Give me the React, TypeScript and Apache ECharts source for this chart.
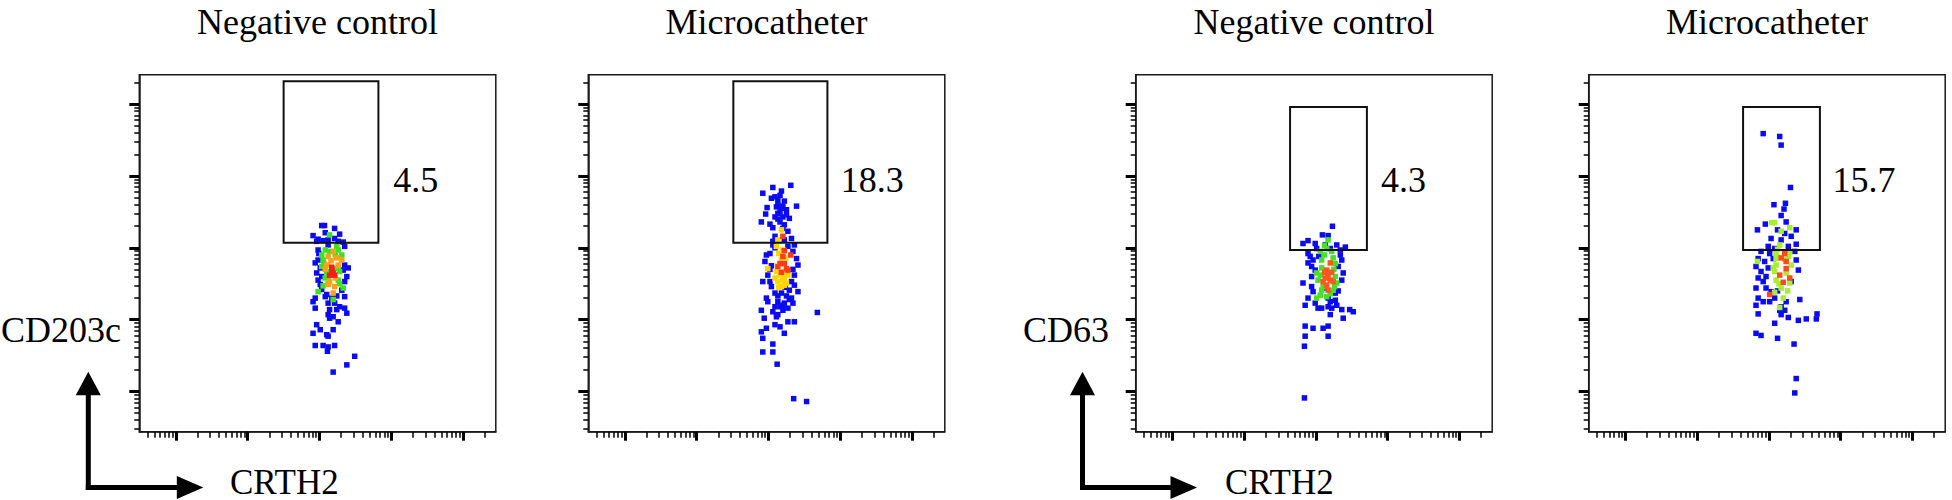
import React, { useEffect, useRef } from "react";
import * as echarts from "echarts";

// ---------- data (log10 fluorescence intensities) ----------
const PANEL_TITLES = ["Negative control", "Microcatheter", "Negative control", "Microcatheter"];
const Y_AXIS_NAMES = ["CD203c", "CD63"];
const X_AXIS_NAME = "CRTH2";
const GATE_PERCENT = [4.5, 18.3, 4.3, 15.7];
// gate rectangles: [xMin, yMin, xMax, yMax]
const GATES = [
  [2.5, 3.07, 3.82, 5.32],
  [2.51, 3.07, 3.82, 5.32],
  [2.64, 2.97, 3.71, 4.96],
  [2.64, 2.97, 3.71, 4.96],
];
// anchor of the gate percentage text (left edge, vertical centre)
const LABEL_POS = [
  [4.02, 3.94],
  [4.0, 3.94],
  [3.9, 3.94],
  [3.88, 3.94],
];
const MAJOR_TICKS = [1, 2, 3, 4, 5];
const MINOR_MULTIPLIERS = [2, 3, 4, 5, 6, 7, 8, 9];
const DECADES = [0, 1, 2, 3, 4, 5];
const X_MIN = 0.49;
const X_MAX = 5.455;
const Y_MIN = 0.44;
const Y_MAX = 5.41;

const P1_BLUE = [
  [3.03, 3.31], [3.07, 3.31], [3.21, 3.27], [2.91, 3.17], [3.08, 3.21], [3.28, 3.19], [2.98, 3.12], [3.05, 3.1],
  [3.12, 3.11], [3.21, 3.13], [3.33, 3.08], [2.96, 3.09], [3.26, 3.09], [2.98, 2.97], [3.35, 3.02], [2.98, 2.83],
  [2.94, 2.79], [3.35, 2.76], [3.4, 2.72], [2.96, 2.65], [3.38, 2.6], [2.98, 2.55], [3.35, 2.53], [3.01, 2.49],
  [3.03, 2.42], [2.94, 2.3], [2.91, 2.25], [3.1, 2.35], [3.35, 2.32], [3.12, 2.23], [3.21, 2.23], [3.28, 2.18],
  [3.14, 2.14], [3.24, 2.14], [3.35, 2.16], [3.38, 2.09], [2.94, 2.16], [3.12, 2.07], [3.19, 2.04], [3.26, 1.97],
  [3.14, 2.02], [2.96, 1.93], [3.01, 1.86], [3.19, 1.86], [2.91, 1.81], [3.1, 1.79], [3.12, 1.77], [2.94, 1.64],
  [3.05, 1.64], [3.12, 1.62], [3.21, 1.64], [3.11, 1.56], [3.49, 1.49], [3.38, 1.37], [3.19, 1.27], [3.12, 3.04],
  [3.33, 2.69], [3.01, 2.72], [3.08, 2.32], [3.17, 2.3], [3.31, 2.41], [3.03, 2.6], [3.24, 2.33], [2.99, 2.92],
];
const P1_GREEN = [
  [3.08, 2.97], [3.26, 2.97], [3.14, 3.18], [3.03, 2.9], [3.05, 2.83], [3.31, 2.9], [3.03, 2.74], [3.28, 2.67],
  [3.08, 2.58], [3.33, 2.44], [2.98, 2.39], [3.19, 2.28], [3.24, 3.02], [3.1, 2.67], [3.12, 2.5], [3.14, 2.95],
  [3.22, 2.9], [3.06, 2.78], [3.24, 2.71], [3.12, 2.6], [3.26, 2.55], [3.05, 2.47], [3.28, 2.5],
];
const P1_ORANGE = [
  [3.19, 2.95], [3.12, 2.88], [3.24, 2.86], [3.31, 2.83], [3.1, 2.76], [3.26, 2.76], [3.12, 2.49], [3.21, 2.46],
  [3.19, 2.37], [3.14, 2.53], [3.16, 2.82], [3.22, 2.58], [3.08, 2.7],
];
const P1_RED = [[3.17, 2.69], [3.19, 2.65], [3.14, 2.62], [3.21, 2.62], [3.17, 2.73]];

const P2_BLUE = [
  [3.31, 3.87], [3.06, 3.84], [3.18, 3.79], [2.92, 3.76], [3.09, 3.71], [3.16, 3.73], [3.04, 3.69], [3.13, 3.67],
  [3.22, 3.65], [2.98, 3.56], [3.39, 3.58], [3.11, 3.57], [3.18, 3.55], [3.25, 3.53], [3.13, 3.48], [3.2, 3.43],
  [3.09, 3.43], [2.96, 3.47], [2.9, 3.36], [3.02, 3.33], [3.16, 3.36], [3.22, 3.32], [3.29, 3.41], [3.06, 3.28],
  [3.27, 3.23], [3.09, 3.16], [3.32, 3.13], [3.22, 3.11], [3.06, 3.09], [3.06, 3.04], [3.36, 3.04], [2.97, 2.9],
  [3.02, 2.92], [3.27, 3.02], [2.95, 2.81], [3.39, 2.85], [2.99, 2.62], [3.41, 2.76], [2.92, 2.53], [3.02, 2.53],
  [3.36, 2.62], [3.32, 2.53], [3.04, 2.46], [3.29, 2.41], [3.09, 2.37], [3.18, 2.37], [3.25, 2.33], [3.32, 2.3],
  [3.13, 2.25], [3.22, 2.23], [3.34, 2.23], [3.09, 2.18], [3.27, 2.16], [3.06, 2.11], [3.2, 2.13], [2.9, 2.13],
  [2.94, 2.02], [3.13, 2.07], [3.27, 1.97], [3.36, 1.97], [3.68, 2.1], [3.11, 2.04], [2.97, 1.88], [2.9, 1.83],
  [3.09, 1.93], [3.16, 1.9], [3.22, 1.81], [2.92, 1.74], [3.06, 1.66], [2.92, 1.55], [3.06, 1.55], [3.12, 1.38],
  [3.35, 0.9], [3.53, 0.86], [3.41, 2.39], [2.97, 2.3], [3.36, 2.48], [2.99, 2.25], [3.16, 2.18], [3.13, 3.6],
  [3.2, 3.58], [3.16, 3.5], [3.25, 3.46], [3.13, 3.4], [3.2, 3.27], [3.09, 3.0], [3.34, 2.95], [3.02, 2.7],
  [3.34, 2.7], [3.23, 2.45], [3.13, 2.33], [3.29, 2.28], [3.2, 2.2], [3.04, 2.75],
];
const P2_YELLOW = [
  [3.18, 3.25], [3.13, 3.11], [3.11, 3.02], [3.2, 2.97], [3.16, 2.62], [3.22, 2.58], [3.13, 2.53], [3.25, 2.51],
  [3.18, 2.46], [2.99, 2.71], [3.27, 2.62], [3.18, 2.83], [3.09, 2.58], [3.22, 2.48], [3.14, 2.92], [3.24, 2.86],
  [3.11, 2.67], [3.2, 2.55], [3.14, 2.45], [3.24, 2.66],
];
const P2_RED = [
  [3.2, 3.16], [3.22, 2.96], [3.31, 2.9], [3.2, 2.88], [3.16, 2.78], [3.25, 2.71], [3.18, 2.66], [3.27, 2.69],
  [3.13, 2.74], [3.22, 2.78],
];

const P3_BLUE = [
  [3.23, 3.3], [3.09, 3.18], [3.17, 3.17], [2.89, 3.1], [2.82, 3.06], [2.99, 3.06], [3.13, 3.04], [3.29, 3.04],
  [3.41, 3.01], [3.01, 2.99], [3.2, 2.99], [3.34, 2.97], [2.89, 2.92], [2.92, 2.88], [2.96, 2.83], [2.89, 2.79],
  [2.94, 2.74], [2.99, 2.69], [3.34, 2.9], [3.36, 2.83], [3.31, 2.74], [3.38, 2.65], [3.36, 2.55], [2.82, 2.51],
  [2.94, 2.46], [2.96, 2.39], [2.89, 2.3], [2.85, 2.2], [2.99, 2.23], [3.03, 2.16], [3.08, 2.16], [3.17, 2.18],
  [3.22, 2.16], [3.27, 2.27], [3.29, 2.2], [3.27, 2.37], [3.17, 2.3], [3.36, 2.14], [3.47, 2.14], [3.52, 2.11],
  [3.38, 2.02], [3.2, 2.07], [2.85, 1.91], [2.96, 1.88], [3.1, 1.88], [3.17, 1.91], [2.85, 1.77], [3.17, 1.77],
  [2.84, 1.63], [2.84, 0.91], [3.04, 2.88], [3.13, 2.44], [2.94, 2.6], [3.2, 2.25], [3.31, 2.4],
];
const P3_GREEN = [
  [3.17, 3.11], [3.15, 2.99], [3.06, 2.95], [3.22, 2.95], [3.08, 2.83], [3.27, 2.78], [3.01, 2.65], [3.03, 2.55],
  [3.27, 2.6], [3.29, 2.51], [3.08, 2.41], [3.24, 2.41], [3.06, 2.34], [3.15, 2.32], [3.01, 2.3], [3.12, 2.9],
  [3.24, 2.86], [3.08, 2.72], [3.25, 2.7], [3.06, 2.62], [3.26, 2.46], [3.1, 2.46], [3.2, 2.36], [3.12, 3.03],
];
const P3_RED = [
  [3.2, 2.79], [3.15, 2.69], [3.17, 2.62], [3.13, 2.58], [3.2, 2.55], [3.24, 2.53], [3.15, 2.48], [3.17, 2.41],
  [3.1, 2.53], [3.22, 2.66], [3.12, 2.66],
];

const P4_BLUE = [
  [2.92, 4.59], [3.15, 4.55], [3.17, 4.43], [3.3, 3.84], [3.07, 3.6], [3.23, 3.62], [3.21, 3.54], [3.17, 3.45],
  [2.95, 3.33], [3.24, 3.36], [2.84, 3.25], [3.12, 3.25], [3.38, 3.25], [3.22, 3.2], [3.31, 3.16], [3.03, 3.13],
  [3.17, 3.11], [3.38, 3.05], [2.99, 3.02], [3.08, 2.99], [3.27, 3.02], [2.89, 2.95], [3.01, 2.92], [3.36, 2.95],
  [2.85, 2.85], [2.94, 2.81], [3.38, 2.83], [2.82, 2.74], [2.89, 2.67], [2.99, 2.72], [3.41, 2.69], [2.85, 2.58],
  [2.92, 2.53], [3.31, 2.53], [2.82, 2.44], [2.96, 2.44], [3.03, 2.39], [2.85, 2.3], [2.92, 2.25], [3.08, 2.3],
  [3.43, 2.28], [2.82, 2.2], [3.01, 2.25], [3.17, 2.18], [3.22, 2.13], [2.85, 2.08], [3.17, 2.07], [3.27, 2.03],
  [3.08, 1.95], [3.41, 1.99], [3.52, 2.01], [3.67, 2.08], [3.66, 2.01], [2.82, 1.81], [2.89, 1.78], [3.12, 1.74],
  [3.35, 1.66], [3.38, 1.18], [3.36, 0.98], [3.15, 2.13], [3.24, 2.25], [3.06, 2.85], [2.96, 2.6], [3.12, 2.4],
];
const P4_GREEN = [
  [3.08, 3.35], [3.17, 3.23], [3.29, 3.28], [3.15, 3.04], [3.29, 2.94], [3.1, 2.92], [2.84, 2.81], [3.1, 2.76],
  [3.31, 2.76], [3.08, 2.67], [3.24, 2.65], [3.1, 2.55], [3.29, 2.51], [3.17, 2.44], [3.2, 2.3], [3.15, 2.17],
  [3.1, 2.85], [3.27, 2.88], [3.04, 3.35], [3.12, 2.98], [3.22, 2.84], [3.06, 2.72], [3.14, 2.5], [3.26, 2.4],
  [3.08, 2.38],
];
const P4_RED = [
  [3.17, 2.86], [3.24, 2.81], [3.24, 2.71], [3.15, 2.62], [3.29, 2.58], [3.2, 2.52], [3.01, 2.35], [3.22, 2.92],
];

const PANEL_LAYERS = [
  [
    { data: P1_BLUE, color: "#0b0bf2" },
    { data: P1_GREEN, color: "#3fe21c" },
    { data: P1_ORANGE, color: "#ffa11a" },
    { data: P1_RED, color: "#ff1c1c" },
  ],
  [
    { data: P2_BLUE, color: "#0b0bf2" },
    { data: P2_YELLOW, color: "#ffd600" },
    { data: P2_RED, color: "#ff3c12" },
  ],
  [
    { data: P3_BLUE, color: "#0b0bf2" },
    { data: P3_GREEN, color: "#46e028" },
    { data: P3_RED, color: "#ff581e" },
  ],
  [
    { data: P4_BLUE, color: "#0b0bf2" },
    { data: P4_GREEN, color: "#a6ee2e" },
    { data: P4_RED, color: "#ff4a1e" },
  ],
];

// ---------- layout ----------
const GRID_LEFTS = [139.3, 588.3, 1135.7, 1588.7];
const GRID_TOP = 74.7;
const GRID_W = 356.5;
const GRID_H = 357;
const FONT = '"Liberation Serif", "Times New Roman", Times, serif';

const MINOR_ALL = DECADES.flatMap((d) => MINOR_MULTIPLIERS.map((k) => d + Math.log10(k)));
const MINOR_X = MINOR_ALL.filter((v) => v >= X_MIN && v <= X_MAX);
const MINOR_Y = MINOR_ALL.filter((v) => v >= Y_MIN && v <= Y_MAX);

function buildOption() {
  const grid: any[] = [];
  const xAxis: any[] = [];
  const yAxis: any[] = [];
  const series: any[] = [];

  for (let i = 0; i < 4; i++) {
    grid.push({
      left: GRID_LEFTS[i],
      top: GRID_TOP,
      width: GRID_W,
      height: GRID_H,
      show: true,
      borderColor: "#1a1a1a",
      borderWidth: 1.5,
      backgroundColor: "#fff",
    });
    const common = { gridIndex: i, type: "value", axisLabel: { show: false }, splitLine: { show: false } };
    xAxis.push({
      ...common,
      min: X_MIN,
      max: X_MAX,
      position: "bottom",
      axisLine: { show: true, onZero: false, lineStyle: { color: "#1a1a1a", width: 1.5 } },
      axisTick: { show: true, customValues: MAJOR_TICKS, length: 9, lineStyle: { color: "#000", width: 3 } },
    });
    xAxis.push({
      ...common,
      min: X_MIN,
      max: X_MAX,
      position: "bottom",
      axisLine: { show: false, onZero: false },
      axisTick: { show: true, customValues: MINOR_X, length: 6, lineStyle: { color: "#000", width: 1.5 } },
    });
    yAxis.push({
      ...common,
      min: Y_MIN,
      max: Y_MAX,
      position: "left",
      axisLine: { show: true, onZero: false, lineStyle: { color: "#1a1a1a", width: 1.5 } },
      axisTick: { show: true, customValues: MAJOR_TICKS, length: 10, lineStyle: { color: "#000", width: 3 } },
    });
    yAxis.push({
      ...common,
      min: Y_MIN,
      max: Y_MAX,
      position: "left",
      axisLine: { show: false, onZero: false },
      axisTick: { show: true, customValues: MINOR_Y, length: 5, lineStyle: { color: "#000", width: 1.5 } },
    });

    const xi = i * 2;
    const yi = i * 2;
    PANEL_LAYERS[i].forEach((layer, li) => {
      series.push({
        type: "scatter",
        xAxisIndex: xi,
        yAxisIndex: yi,
        data: layer.data,
        symbol: "rect",
        symbolSize: 5.5,
        itemStyle: { color: layer.color, opacity: 1 },
        z: 2 + li * 0.01,
        silent: true,
      });
    });
    series.push({
      type: "custom",
      xAxisIndex: xi,
      yAxisIndex: yi,
      z: 5,
      silent: true,
      clip: false,
      encode: { x: [0, 2], y: [1, 3] },
      data: [GATES[i]],
      renderItem: (_params: any, api: any) => {
        const p0 = api.coord([api.value(0), api.value(3)]);
        const p1 = api.coord([api.value(2), api.value(1)]);
        return {
          type: "rect",
          shape: { x: p0[0], y: p0[1], width: p1[0] - p0[0], height: p1[1] - p0[1] },
          style: { fill: "none", stroke: "#111", lineWidth: 2 },
        };
      },
    });
    series.push({
      type: "scatter",
      xAxisIndex: xi,
      yAxisIndex: yi,
      data: [[LABEL_POS[i][0], LABEL_POS[i][1], GATE_PERCENT[i]]],
      symbolSize: 1,
      itemStyle: { color: "rgba(0,0,0,0)" },
      z: 6,
      silent: true,
      label: {
        show: true,
        position: "right",
        distance: 0,
        formatter: (p: any) => String(p.value[2]),
        fontFamily: FONT,
        fontSize: 36,
        color: "#000",
        textBorderWidth: 0,
        opacity: 1,
        verticalAlign: "middle",
      },
    });
  }

  const textStyle = (text: string, x: number, y: number, align: string, size = 36) => ({
    type: "text",
    style: {
      text,
      x,
      y,
      font: `${size}px ${FONT}`,
      fill: "#000",
      textAlign: align,
      textVerticalAlign: "middle",
    },
  });

  const graphic: any[] = [];
  // titles
  PANEL_TITLES.forEach((t, i) => {
    graphic.push(textStyle(t, GRID_LEFTS[i] + GRID_W / 2, 22, "center"));
  });
  // y names
  graphic.push(textStyle(Y_AXIS_NAMES[0], 121, 330, "right"));
  graphic.push(textStyle(Y_AXIS_NAMES[1], 1109, 330, "right"));
  // x names
  graphic.push(textStyle(X_AXIS_NAME, 230, 482, "left", 35));
  graphic.push(textStyle(X_AXIS_NAME, 1225, 482, "left", 35));

  // arrows
  const arrow = (vx: number, hy: number, vTop: number, hTip: number) => [
    { type: "line", shape: { x1: vx, y1: hy + 2.5, x2: vx, y2: vTop + 22 }, style: { stroke: "#000", lineWidth: 5 } },
    { type: "line", shape: { x1: vx - 2.5, y1: hy, x2: hTip - 24, y2: hy }, style: { stroke: "#000", lineWidth: 5 } },
    {
      type: "polygon",
      shape: { points: [[vx - 12.5, vTop + 23.5], [vx + 12.5, vTop + 23.5], [vx, vTop]] },
      style: { fill: "#000" },
    },
    {
      type: "polygon",
      shape: { points: [[hTip - 26.5, hy - 11.5], [hTip - 26.5, hy + 11.5], [hTip, hy]] },
      style: { fill: "#000" },
    },
  ];
  graphic.push(...arrow(88.3, 487.5, 371.7, 203.3));
  graphic.push(...arrow(1082.5, 487.5, 371.7, 1197));

  return { animation: false, backgroundColor: "#fff", grid, xAxis, yAxis, series, graphic };
}

export default function App() {
  const ref = useRef<HTMLDivElement>(null);
  useEffect(() => {
    if (!ref.current) return;
    const chart = echarts.init(ref.current, undefined, { renderer: "svg" });
    chart.setOption(buildOption() as any);
    return () => chart.dispose();
  }, []);
  return (
    <div
      ref={ref}
      style={{ position: "fixed", left: 0, top: 0, width: 1952, height: 500, background: "#fff" }}
    />
  );
}
